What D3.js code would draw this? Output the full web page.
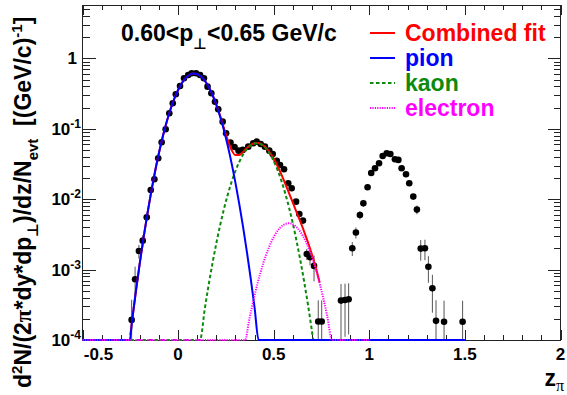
<!DOCTYPE html>
<html>
<head>
<meta charset="utf-8">
<script src="https://cdn.jsdelivr.net/npm/d3@7"></script>
<style>
body { margin: 0; background: #fff; }
svg text { font-family: "Liberation Sans", Arial, Helvetica, "DejaVu Sans", sans-serif; font-weight: bold; white-space: pre; }
</style>
</head>
<body>
<svg id="plot" width="567" height="395"></svg>
<script>
//DATA
// measured points (z, dN, error)
const zVals = [-0.243,-0.225,-0.205,-0.185,-0.164,-0.143,-0.124,-0.104,-0.086,-0.065,-0.046,-0.028,-0.012,0.010,0.031,0.053,0.071,0.094,0.115,0.135,
  0.154,0.174,0.193,0.210,0.233,0.251,0.274,0.295,0.316,0.338,0.367,0.393,0.411,0.432,0.454,0.477,0.495,0.516,0.533,0.554,
  0.576,0.594,0.617,0.634,0.653,0.673,0.690,0.711,0.733,0.751,0.852,0.873,0.892,0.911,0.930,0.951,0.969,0.991,1.010,1.030,
  1.051,1.070,1.091,1.110,1.134,1.152,1.169,1.192,1.209,1.230,1.249,1.269,1.291,1.309,1.330,1.349,1.391,1.488];
const yVals = [1.93e-4,7.31e-4,1.84e-3,2.58e-3,5.55e-3,0.01355,0.0192,0.0382,0.0645,0.0987,0.1666,0.231,0.310,0.407,0.523,0.583,0.616,0.616,0.583,0.523,
  0.398,0.321,0.243,0.190,0.1265,0.0866,0.0641,0.0553,0.0490,0.0502,0.0559,0.0624,0.0658,0.0610,0.0559,0.0490,0.0440,0.0353,0.0307,0.0267,
  0.0169,0.0143,0.00924,0.00618,0.00497,0.00167,0.00150,0.00113,1.83e-4,1.83e-4,3.63e-4,3.71e-4,3.80e-4,2.01e-3,3.36e-3,5.98e-3,8.78e-3,0.0148,0.0236,0.0276,
  0.0325,0.0412,0.0450,0.0440,0.0370,0.0362,0.0276,0.0227,0.0169,0.0109,0.00712,1.99e-3,2.01e-3,1.10e-3,5.44e-4,1.87e-4,1.82e-4,1.82e-4];
const yErrs = [1.8e-4,3.7e-4,4e-4,5e-4,7e-4,1e-3,1.3e-3,0,0,0,0,0,0,0,0,0,0,0,0,0,
  0,0,0,0,0,0,0,0,0,0,0,0,0,0,0,0,0,0,0,0,
  0,0,0,5e-4,4e-4,3e-4,3.5e-4,4.5e-4,1.83e-4,1.83e-4,2.6e-4,2.6e-4,2.6e-4,4.5e-4,6e-4,8e-4,1e-3,0,0,0,
  0,0,0,0,0,0,0,0,0,0,1e-3,6.5e-4,6.5e-4,4.5e-4,3e-4,1.8e-4,1.8e-4,1.8e-4];

// fit curves (below 1e-4 they sit on the axis)
const fitZ = [-0.25,-0.24,-0.22,-0.20,-0.18,-0.16,-0.14,-0.12,-0.10,-0.08,-0.06,-0.04,-0.02,0,0.02,0.04,0.06,0.08,0.10,0.12,
  0.14,0.16,0.18,0.20,0.22,0.24,0.26,0.28,0.30,0.32,0.34,0.36,0.38,0.40,0.42,0.44,0.46,0.48,0.50,0.52,
  0.54,0.56,0.58,0.60,0.62,0.64,0.66,0.68,0.70,0.72,0.74];
const fitY = [1.17e-4,1.94e-4,5.10e-4,1.257e-3,2.916e-3,6.36e-3,0.01304,0.02517,0.04566,0.0779,0.1250,0.1886,0.2677,0.3571,0.4482,0.5292,0.5872,0.6130,0.6018,0.5557,
  0.4828,0.3946,0.3038,0.2209,0.1527,0.1021,0.0686,0.0499,0.04235,0.04254,0.0471,0.0535,0.0592,0.0626,0.0629,0.0598,0.0540,0.0462,0.0378,0.0297,
  0.0225,0.01667,0.01222,8.93e-3,6.52e-3,4.75e-3,3.42e-3,2.41e-3,1.64e-3,1.07e-3,6.65e-4];

const pionZ = [-0.5,-0.253,-0.24,-0.22,-0.20,-0.18,-0.16,-0.14,-0.12,-0.10,-0.08,-0.06,-0.04,-0.02,0,0.02,0.04,0.06,0.08,0.10,
  0.12,0.14,0.16,0.18,0.20,0.22,0.24,0.26,0.28,0.30,0.32,0.34,0.36,0.38,0.40,0.421,1.5];
const pionY = [1e-4,1e-4,1.94e-4,5.10e-4,1.257e-3,2.916e-3,6.36e-3,0.01304,0.02517,0.04566,0.0779,0.1250,0.1886,0.2677,0.3571,0.4482,0.5292,0.5872,0.6130,0.6018,
  0.5556,0.4825,0.3940,0.3026,0.2185,0.1484,0.0948,0.0569,0.0322,0.01709,8.54e-3,4.01e-3,1.773e-3,7.37e-4,2.88e-4,1e-4,1e-4];

const kaonZ = [-0.5,0.1145,0.14,0.16,0.18,0.20,0.22,0.24,0.26,0.28,0.30,0.32,0.34,0.36,0.38,0.40,0.42,0.44,0.46,0.48,
  0.50,0.52,0.54,0.56,0.58,0.60,0.62,0.64,0.66,0.68,0.70,0.7075,1.0];
const kaonY = [1e-4,1e-4,2.83e-4,6.10e-4,1.238e-3,2.37e-3,4.28e-3,7.29e-3,0.01169,0.01769,0.02526,0.0340,0.0431,0.0516,0.0582,0.0619,0.0621,0.0587,0.0524,0.0440,
  0.0349,0.0261,0.01839,0.01222,7.66e-3,4.53e-3,2.52e-3,1.326e-3,6.57e-4,3.07e-4,1.35e-4,1e-4,1e-4];

const eleZ = [-0.5,0.351,0.37,0.40,0.43,0.46,0.49,0.52,0.55,0.58,0.61,0.64,0.67,0.70,0.73,0.76,0.78,0.805,1.0];
const eleY = [1e-4,1e-4,1.82e-4,4.30e-4,8.91e-4,1.616e-3,2.56e-3,3.55e-3,4.30e-3,4.56e-3,4.22e-3,3.42e-3,2.43e-3,1.504e-3,8.15e-4,3.86e-4,2.18e-4,1e-4,1e-4];

const xMajor = [-0.5, 0, 0.5, 1, 1.5, 2];
const xMajorLabels = ["-0.5", "0", "0.5", "1", "1.5", "2"];
const yDecades = [1e-4, 1e-3, 1e-2, 1e-1, 1];
const yDecadeExp = ["-4", "-3", "-2", "-1", ""];
const legendNames = ["Combined fit", "pion", "kaon", "electron"];
const legendColors = ["#ff0000", "#0000ff", "#0b8a0b", "#ff00ff"];
const legendDash = [null, null, "3.5,2.5", "1.2,1.2"];

//GLOBAL
const frame = {left: 82.5, right: 560.5, top: 5, bottom: 340};
let xScale, yScale;

function setupScales() {
  xScale = d3.scaleLinear().domain([-0.5, 2]).range([frame.left, frame.right]);
  yScale = d3.scaleLog().domain([1e-4, 5.75]).range([frame.bottom, frame.top]).clamp(true);
}

function minorLogTicks() {
  let t = [];
  [1e-4, 1e-3, 1e-2, 1e-1, 1].forEach((d) => {
    for (let k = 2; k <= 9; k++) {
      if (d * k <= 5.75) t.push(d * k);
    }
  });
  return t;
}

function tidy(g) {
  g.select(".domain").remove();
  g.selectAll("line").attr("stroke", "#222").attr("shape-rendering", "crispEdges");
}

function drawAxes(svg) {
  const xMinor = d3.range(-5, 21).map((i) => i / 10);
  const yMinor = minorLogTicks();

  svg.append("rect")
    .attr("x", frame.left).attr("y", frame.top)
    .attr("width", frame.right - frame.left).attr("height", frame.bottom - frame.top)
    .attr("fill", "none").attr("stroke", "#222").attr("stroke-width", 1)
    .attr("shape-rendering", "crispEdges");

  // bottom + top
  svg.append("g").attr("transform", `translate(0,${frame.bottom})`)
    .call(d3.axisBottom(xScale).tickValues(xMinor).tickSize(-5).tickSizeOuter(0).tickFormat("")).call(tidy);
  svg.append("g").attr("transform", `translate(0,${frame.bottom})`)
    .call(d3.axisBottom(xScale).tickValues(xMajor).tickSize(-10).tickSizeOuter(0).tickFormat("")).call(tidy);
  svg.append("g").attr("transform", `translate(0,${frame.top})`)
    .call(d3.axisTop(xScale).tickValues(xMinor).tickSize(-5).tickSizeOuter(0).tickFormat("")).call(tidy);
  svg.append("g").attr("transform", `translate(0,${frame.top})`)
    .call(d3.axisTop(xScale).tickValues(xMajor).tickSize(-10).tickSizeOuter(0).tickFormat("")).call(tidy);

  // left + right
  svg.append("g").attr("transform", `translate(${frame.left},0)`)
    .call(d3.axisLeft(yScale).tickValues(yMinor).tickSize(-7).tickSizeOuter(0).tickFormat("")).call(tidy);
  svg.append("g").attr("transform", `translate(${frame.left},0)`)
    .call(d3.axisLeft(yScale).tickValues(yDecades).tickSize(-13).tickSizeOuter(0).tickFormat("")).call(tidy);
  svg.append("g").attr("transform", `translate(${frame.right},0)`)
    .call(d3.axisRight(yScale).tickValues(yMinor).tickSize(-7).tickSizeOuter(0).tickFormat("")).call(tidy);
  svg.append("g").attr("transform", `translate(${frame.right},0)`)
    .call(d3.axisRight(yScale).tickValues(yDecades).tickSize(-13).tickSizeOuter(0).tickFormat("")).call(tidy);

  // the first label sits right of its tick, like in the original
  svg.selectAll(".xlab")
    .data(xMajor)
    .enter().append("text")
    .attr("class", "xlab")
    .attr("x", (d) => xScale(d) + (d < 0 ? 16 : 0))
    .attr("y", 360)
    .attr("text-anchor", "middle")
    .attr("font-size", "17px")
    .text((d, i) => xMajorLabels[i]);

  yDecades.forEach((d, i) => {
    let t = svg.append("text")
      .attr("x", yDecadeExp[i] === "" ? 77 : 81)
      .attr("y", yScale(d) + 6)
      .attr("text-anchor", "end")
      .attr("font-size", "17px");
    if (yDecadeExp[i] === "") {
      t.text("1");
    } else {
      t.append("tspan").text("10");
      t.append("tspan").attr("dy", -7).attr("font-size", "12px").text(yDecadeExp[i]);
    }
  });
}

function drawPoints(svg) {
  const pts = d3.zip(zVals, yVals, yErrs);
  const g = svg.append("g");

  g.selectAll("line")
    .data(pts.filter((d) => d[2] > 0))
    .enter().append("line")
    .attr("x1", (d) => xScale(d[0])).attr("x2", (d) => xScale(d[0]))
    .attr("y1", (d) => yScale(Math.max(d[1] - d[2], 1e-6)))
    .attr("y2", (d) => yScale(d[1] + d[2]))
    .attr("stroke", "#555").attr("stroke-width", 1);

  g.selectAll("circle")
    .data(pts)
    .enter().append("circle")
    .attr("cx", (d) => xScale(d[0]))
    .attr("cy", (d) => yScale(d[1]))
    .attr("r", 3.3)
    .attr("fill", "#000");
}

function drawCurve(svg, zs, ys, color, dash) {
  const line = d3.line()
    .x((d) => xScale(d[0]))
    .y((d) => yScale(d[1]))
    .curve(d3.curveMonotoneX);
  svg.append("path")
    .datum(d3.zip(zs, ys))
    .attr("d", line)
    .attr("fill", "none")
    .attr("stroke", color)
    .attr("stroke-width", 2)
    .attr("stroke-dasharray", dash);
}

function drawTexts(svg) {
  // title
  let t = svg.append("text").attr("x", 121).attr("y", 41).attr("font-size", "23px").attr("fill", "#000");
  t.append("tspan").text("0.60<p");
  t.append("tspan").attr("dy", 8).attr("font-size", "15px").attr("font-family", "DejaVu Sans").text("\u22A5");
  t.append("tspan").attr("dy", -8).text("<0.65 GeV/c");

  // legend
  legendNames.forEach((name, i) => {
    let ly = 33 + 25 * i;
    svg.append("line")
      .attr("x1", 370).attr("x2", 395).attr("y1", ly).attr("y2", ly)
      .attr("stroke", legendColors[i]).attr("stroke-width", 2)
      .attr("stroke-dasharray", legendDash[i]);
    svg.append("text")
      .attr("x", 405).attr("y", ly + 8)
      .attr("font-size", "23px")
      .attr("fill", legendColors[i])
      .text(name);
  });

  // x title
  let xt = svg.append("text").attr("x", 564).attr("y", 386).attr("text-anchor", "end").attr("font-size", "23px");
  xt.append("tspan").text("z");
  xt.append("tspan").attr("dy", 5).attr("font-size", "16px").attr("font-family", "Liberation Serif").attr("font-weight", "normal").text("\u03C0");

  // y title
  let yt = svg.append("text")
    .attr("transform", "translate(31,388) rotate(-90)")
    .attr("font-size", "23px");
  yt.append("tspan").text("d");
  yt.append("tspan").attr("dy", -9).attr("font-size", "15px").text("2");
  yt.append("tspan").attr("dy", 9).text("N/(2");
  yt.append("tspan").attr("font-family", "Liberation Serif").text("\u03C0");
  yt.append("tspan").text("*dy*dp");
  yt.append("tspan").attr("dy", 7).attr("font-size", "15px").attr("font-family", "DejaVu Sans").text("\u22A5");
  yt.append("tspan").attr("dy", -7).text(")/dz/N");
  yt.append("tspan").attr("dy", 7).attr("font-size", "15px").text("evt");
  yt.append("tspan").attr("dy", -7).text("  [(GeV/c)");
  yt.append("tspan").attr("dy", -9).attr("font-size", "15px").text("-1");
  yt.append("tspan").attr("dy", 9).text("]");
}

function drawChart() {
  const svg = d3.select("#plot");
  setupScales();
  drawAxes(svg);
  drawPoints(svg);
  drawCurve(svg, fitZ, fitY, "#ff0000", null);
  drawCurve(svg, kaonZ, kaonY, "#0b8a0b", "3.5,2.5");
  drawCurve(svg, pionZ, pionY, "#0000ff", null);
  drawCurve(svg, eleZ, eleY, "#ff00ff", "1.2,1.2");
  drawTexts(svg);
}

drawChart();
</script>
</body>
</html>
